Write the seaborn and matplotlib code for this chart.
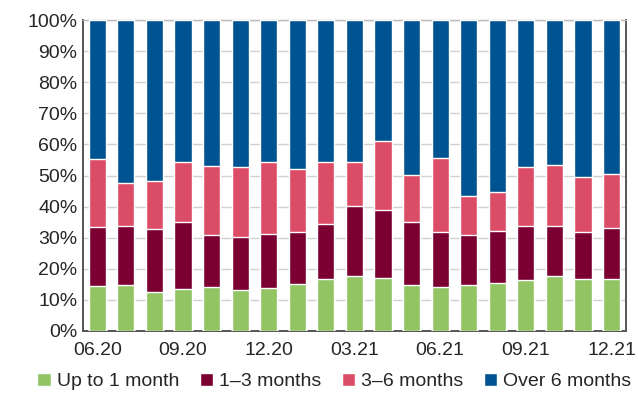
import numpy as np
import pandas as pd
import matplotlib
matplotlib.use('Agg')
import matplotlib.pyplot as plt
import seaborn as sns

# monthly share of deposits by remaining maturity (%)
months = ['06.20', '07.20', '08.20', '09.20', '10.20', '11.20', '12.20',
          '01.21', '02.21', '03.21', '04.21', '05.21', '06.21',
          '07.21', '08.21', '09.21', '10.21', '11.21', '12.21']
up_to_1m = [14.3, 14.8, 12.6, 13.5, 14.0, 13.2, 13.7, 15.2, 16.6, 17.6,
            16.9, 14.9, 14.2, 14.6, 15.4, 16.3, 17.8, 16.6, 16.6]
m1_3 = [19.0, 19.1, 20.1, 21.6, 16.8, 16.9, 17.4, 16.6, 17.8, 22.5,
        21.9, 20.2, 17.6, 16.2, 16.8, 17.4, 15.9, 15.1, 16.6]
m3_6 = [21.9, 13.7, 15.6, 19.4, 22.1, 22.5, 23.4, 20.4, 19.8, 14.2,
        22.3, 15.2, 23.7, 12.7, 12.6, 18.9, 19.6, 17.9, 17.4]
labels = ['Up to 1 month', '1\u20133 months', '3\u20136 months', 'Over 6 months']
colors = ['#92c464', '#7b0031', '#db4c66', '#005391']
tick_months = ['06.20', '09.20', '12.20', '03.21', '06.21', '09.21', '12.21']

df = pd.DataFrame({'month': months, 'up1': up_to_1m, 'm13': m1_3, 'm36': m3_6})
df['over6'] = 100 - df['up1'] - df['m13'] - df['m36']

# cumulative tops, drawn from the tallest layer down
cum = df[['up1', 'm13', 'm36', 'over6']].cumsum(axis=1)

sns.set_style('white')
plt.rcParams['font.family'] = ['Liberation Sans', 'DejaVu Sans']

fig = plt.figure(figsize=(6.38, 4.03), dpi=100)
ax = fig.add_axes([0.130, 0.179, 0.851, 0.771])

for col, lab, c in reversed(list(zip(cum.columns, labels, colors))):
    sns.barplot(x=df['month'], y=cum[col], color=c, width=0.6, ax=ax,
                label=lab, saturation=1, zorder=3)

ax.set_ylim(0, 100)
ax.set_xlim(-0.5, len(months) - 0.5)
ax.set_yticks(np.arange(0, 101, 10))
ax.set_yticklabels([f'{v}%' for v in range(0, 101, 10)], fontsize=14)
ax.yaxis.grid(True, color='#d0d0d0', linewidth=1, zorder=0)
ax.set_axisbelow(True)

pos = [months.index(m) for m in tick_months]
ax.set_xticks(pos)
ax.set_xticklabels(tick_months, fontsize=14)
ax.tick_params(axis='x', length=0, pad=8)
ax.tick_params(axis='y', length=0, pad=4)
ax.set_xticks([5.5, 11.5, 17.5], minor=True)
ax.tick_params(axis='x', which='minor', direction='in', length=5,
               color='#555555', width=1.2)
ax.set_xlabel('')
ax.set_ylabel('')

for s in ['left', 'bottom', 'right']:
    ax.spines[s].set_color('#555555')
    ax.spines[s].set_linewidth(1.4)
ax.spines['top'].set_color('#bbbbbb')
ax.spines['top'].set_linewidth(1)

handles, labs = ax.get_legend_handles_labels()
if ax.get_legend() is not None:
    ax.get_legend().remove()
order = [labs.index(l) for l in labels]
fig.legend([handles[i] for i in order], [labs[i] for i in order],
           loc='lower center', bbox_to_anchor=(0.524, -0.012), ncol=4,
           frameon=False, fontsize=14, handlelength=0.7, handleheight=0.7,
           handletextpad=0.3, columnspacing=1.05)

fig.savefig('out.png', dpi=100)
